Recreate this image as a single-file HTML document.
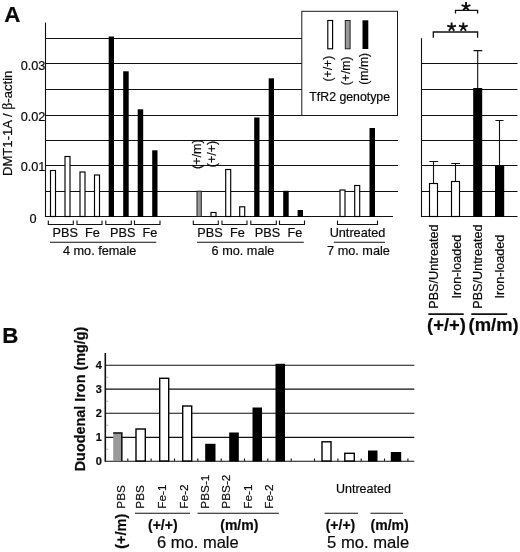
<!DOCTYPE html>
<html><head><meta charset="utf-8">
<style>
html,body{margin:0;padding:0;background:#fff;}
body{width:520px;height:552px;overflow:hidden;}
svg{display:block;filter:grayscale(1);font-family:"Liberation Sans",sans-serif;fill:#0a0a0a;}
text{stroke:#0a0a0a;stroke-width:0.2px;}
.g{stroke:#111;stroke-width:1.1;fill:none;}
.w{fill:#fff;stroke:#000;stroke-width:1.15;}
.k{fill:#000;stroke:none;}
.gy{fill:#999;stroke:#222;stroke-width:1;}
.t{font-size:12.7px;}
.b{font-weight:bold;}
</style></head><body>
<svg width="520" height="552" viewBox="0 0 520 552">
<rect width="520" height="552" fill="#fff" stroke="none"/>

<!-- ===== Panel A left ===== -->
<text x="4.2" y="22.2" class="b" font-size="22.3">A</text>
<g class="g">
<path d="M45.5 22.5V217"/>
<path d="M45.5 38.5H302M45.5 63.5H302M45.5 89.5H302M45.5 115.5H398M45.5 140.5H398M45.5 165.5H398M45.5 191.5H398M45.5 216.5H393"/>
</g>
<!-- y labels -->
<g class="t" text-anchor="middle">
<text x="33" y="69.5">0.03</text>
<text x="33" y="120.7">0.02</text>
<text x="33" y="171.3">0.01</text>
<text x="33" y="223">0</text>
</g>
<text font-size="13.1" transform="translate(12.3 176) rotate(-90)">DMT1-1A / <tspan font-family="Liberation Serif" font-size="14">β</tspan>-actin</text>

<!-- 4 mo female bars -->
<rect class="w" x="50.5" y="170.5" width="5" height="46"/>
<rect class="w" x="65" y="156.5" width="5" height="60"/>
<rect class="w" x="80" y="172" width="5" height="44.5"/>
<rect class="w" x="94.5" y="175" width="5" height="41.5"/>
<rect class="k" x="108.7" y="36.5" width="5.3" height="180.5"/>
<rect class="k" x="123.2" y="71.3" width="5.5" height="145.7"/>
<rect class="k" x="137.7" y="109.3" width="5.5" height="107.7"/>
<rect class="k" x="152.2" y="150.3" width="5.3" height="66.7"/>
<!-- 6 mo male bars -->
<rect class="gy" x="197" y="191.2" width="4.3" height="25.3"/>
<rect class="w" x="211" y="212.5" width="5" height="4"/>
<rect class="w" x="225.7" y="169.5" width="5" height="47"/>
<rect class="w" x="239.7" y="206.8" width="5" height="9.7"/>
<rect class="k" x="254.2" y="117.5" width="5.3" height="99.5"/>
<rect class="k" x="268.7" y="78.3" width="5.3" height="138.7"/>
<rect class="k" x="283.2" y="190.8" width="5.5" height="26.2"/>
<rect class="k" x="297.6" y="210" width="5.4" height="7"/>
<!-- 7 mo male bars -->
<rect class="w" x="340" y="190" width="5" height="26.5"/>
<rect class="w" x="354.7" y="185.5" width="5" height="31"/>
<rect class="k" x="369.5" y="128" width="5.5" height="89"/>

<!-- brackets -->
<g class="g">
<path d="M48.3 220.5V224.5H73.3V220.5"/>
<path d="M77 220.5V224.5H102V220.5"/>
<path d="M105.8 220.5V224.5H131.3V220.5"/>
<path d="M134.5 220.5V224.5H160V220.5"/>
<path d="M193.3 220.5V224.5H218.3V220.5"/>
<path d="M222 220.5V224.5H247V220.5"/>
<path d="M250.8 220.5V224.5H276.3V220.5"/>
<path d="M279.5 220.5V224.5H304.5V220.5"/>
<path d="M337.5 220.5V224.5H377.5V220.5"/>
<path d="M50 242.3H156.3M197 242.3H303.8M333.8 242.3H385"/>
</g>
<g class="t" text-anchor="middle">
<text x="65.3" y="237">PBS</text>
<text x="92.5" y="237">Fe</text>
<text x="122.8" y="237">PBS</text>
<text x="150" y="237">Fe</text>
<text x="210" y="237">PBS</text>
<text x="237.5" y="237">Fe</text>
<text x="267.5" y="237">PBS</text>
<text x="295" y="237">Fe</text>
<text x="357.5" y="237">Untreated</text>
<text x="99.6" y="254.5">4 mo. female</text>
<text x="243" y="254.5">6 mo. male</text>
<text x="358.5" y="254.5">7 mo. male</text>
</g>
<!-- rotated genotype labels in chart -->
<text font-size="12.5" transform="translate(201.1 168.9) rotate(-90)">(+/m)</text>
<text font-size="12.5" transform="translate(216.4 167.2) rotate(-90)">(+/+)</text>

<!-- legend -->
<rect x="301.8" y="11.3" width="95.7" height="104.2" fill="#fff" stroke="#1a1a1a" stroke-width="1"/>
<rect class="w" x="327.8" y="20.5" width="4.8" height="28.3"/>
<rect class="gy" x="345.3" y="20.5" width="4.8" height="28.3"/>
<rect class="k" x="362.5" y="20.3" width="5.8" height="28.7"/>
<g font-size="12.2">
<text transform="translate(332 81.5) rotate(-90)">(+/+)</text>
<text transform="translate(350 85.3) rotate(-90)">(+/m)</text>
<text transform="translate(368.3 84.7) rotate(-90)">(m/m)</text>
</g>
<text x="349.7" y="100.5" font-size="12.3" text-anchor="middle">TfR2 genotype</text>

<!-- ===== Panel A right ===== -->
<g class="g">
<path d="M421.5 38.2V217"/>
<path d="M422 63.5H517.5M422 89.5H517.5M422 115.5H517.5M422 140.5H517.5M422 165.5H517.5M422 191.5H517.5M422 216.5H517.5"/>
<path stroke-width="1.3" d="M455.5 13.5V10.3H477.6V13.5"/>
<path stroke-width="1.3" d="M433.3 37.7V32H477.6V37.7"/>
</g>
<path d="M466.0 6.6L466.0 2.0M466.0 6.6L470.4 5.2M466.0 6.6L468.7 10.3M466.0 6.6L463.3 10.3M466.0 6.6L461.6 5.2M451.6 27.0L451.6 22.4M451.6 27.0L456.0 25.6M451.6 27.0L454.3 30.7M451.6 27.0L448.9 30.7M451.6 27.0L447.2 25.6M463.3 27.0L463.3 22.4M463.3 27.0L467.7 25.6M463.3 27.0L466.0 30.7M463.3 27.0L460.6 30.7M463.3 27.0L458.9 25.6" stroke="#111" stroke-width="1.9" fill="none"/>
<!-- bars + error -->
<g class="g">
<path d="M433.5 183.5V161.5M429.3 161.5H438.2"/>
<path d="M455.5 181.5V163.5M451.2 163.5H460"/>
<path d="M477.7 88V50.6M473.5 50.6H482.3"/>
<path d="M499.5 165.6V120.5M495.4 120.5H503.5"/>
</g>
<rect class="w" x="429.5" y="183.5" width="8" height="33"/>
<rect class="w" x="451.5" y="181.5" width="8" height="35"/>
<rect class="k" x="473.2" y="88" width="9" height="129"/>
<rect class="k" x="495" y="165.6" width="9.2" height="51.4"/>
<g font-size="12.65" text-anchor="middle">
<text transform="translate(438.2 266.6) rotate(-90)">PBS/Untreated</text>
<text transform="translate(460.7 266.6) rotate(-90)">Iron-loaded</text>
<text transform="translate(482.2 266.6) rotate(-90)">PBS/Untreated</text>
<text transform="translate(503.5 266.6) rotate(-90)">Iron-loaded</text>
</g>
<path d="M428.3 314.1H463.7M471.3 314.1H507.3" stroke="#111" stroke-width="1.8" fill="none"/>
<text x="446.5" y="331" class="b" font-size="18.4" text-anchor="middle">(+/+)</text>
<text x="493.6" y="331" class="b" font-size="18.4" text-anchor="middle">(m/m)</text>

<!-- ===== Panel B ===== -->
<text x="2.3" y="342.6" class="b" font-size="22.3">B</text>
<g class="g" stroke-width="1.3">
<path stroke-width="1.6" d="M105.3 353V461.8"/>
<path d="M105.5 365.2H414.3M105.5 389.1H414.3M105.5 413.2H414.3M105.5 437.4H414.3M105.5 461.2H414.3"/>
</g>
<g class="b" font-size="11" text-anchor="end">
<text x="101.8" y="369.3">4</text>
<text x="101.8" y="393.2">3</text>
<text x="101.8" y="417.3">2</text>
<text x="101.8" y="441.3">1</text>
<text x="101.8" y="465.3">0</text>
</g>
<text class="b" font-size="14.4" transform="translate(84.6 471.3) rotate(-90)">Duodenal Iron (mg/g)</text>
<!-- ticks -->
<path class="g" stroke-width="0.9" d="M127.8 461v-2.6M151.1 461v-2.6M174.5 461v-2.6M197.8 461v-2.6M221.2 461v-2.6M244.5 461v-2.6M267.8 461v-2.6M291.2 461v-2.6M314.5 461v-2.6M337.9 461v-2.6M361.2 461v-2.6M384.5 461v-2.6M407.9 461v-2.6"/>
<path d="M106 377.2h2.2M106 401.2h2.2M106 425.2h2.2M106 449.2h2.2" stroke="#aaa" stroke-width="0.9" fill="none"/>
<!-- bars B -->
<g stroke-width="1.4">
<rect x="113.2" y="432.5" width="9" height="28.5" fill="#999" stroke="none"/><path d="M113.2 433.1H121.8V461" fill="none" stroke="#111" stroke-width="1.5"/>
<rect class="w" style="stroke-width:1.4" x="136" y="429" width="9.3" height="32"/>
<rect class="w" style="stroke-width:1.4" x="159.7" y="378.3" width="9" height="82.7"/>
<rect class="w" style="stroke-width:1.4" x="182.7" y="406" width="9" height="55"/>
<rect class="k" x="205.2" y="443.8" width="10.3" height="17.7"/>
<rect class="k" x="229.2" y="432.5" width="9.6" height="29"/>
<rect class="k" x="252.5" y="407.5" width="9.5" height="54"/>
<rect class="k" x="275.5" y="363.8" width="9.5" height="97.7"/>
<rect class="w" style="stroke-width:1.4" x="322" y="441.8" width="9" height="19.2"/>
<rect class="w" style="stroke-width:1.4" x="344.8" y="453.3" width="9.5" height="7.7"/>
<rect class="k" x="368" y="450.5" width="9.5" height="11"/>
<rect class="k" x="390.8" y="452" width="10.4" height="9.5"/>
</g>
<!-- B labels -->
<g font-size="11.8">
<text transform="translate(125 508.7) rotate(-90)">PBS</text>
<text transform="translate(144.2 508.7) rotate(-90)">PBS</text>
<text transform="translate(165.8 508.7) rotate(-90)">Fe-1</text>
<text transform="translate(187.8 508.7) rotate(-90)">Fe-2</text>
<text transform="translate(209.2 508.7) rotate(-90)">PBS-1</text>
<text transform="translate(230 508.7) rotate(-90)">PBS-2</text>
<text transform="translate(251.5 508.7) rotate(-90)">Fe-1</text>
<text transform="translate(273.2 508.7) rotate(-90)">Fe-2</text>
</g>
<text class="b" font-size="14.5" transform="translate(126.3 548.8) rotate(-90)">(+/m)</text>
<path class="g" stroke-width="1.2" d="M135 513.3H190M197.5 513.3H278.8M324.5 513.3H358M370.5 513.3H403"/>
<g class="b" font-size="14" text-anchor="middle">
<text x="162.8" y="530">(+/+)</text>
<text x="239.3" y="530">(m/m)</text>
<text x="340.5" y="529.7">(+/+)</text>
<text x="389.6" y="529.7">(m/m)</text>
</g>
<text x="363.4" y="493.3" font-size="12.5" text-anchor="middle">Untreated</text>
<text x="197.9" y="547.5" font-size="16.5" text-anchor="middle">6 mo. male</text>
<text x="368.1" y="547.6" font-size="16.6" text-anchor="middle">5 mo. male</text>
</svg>
</body></html>
